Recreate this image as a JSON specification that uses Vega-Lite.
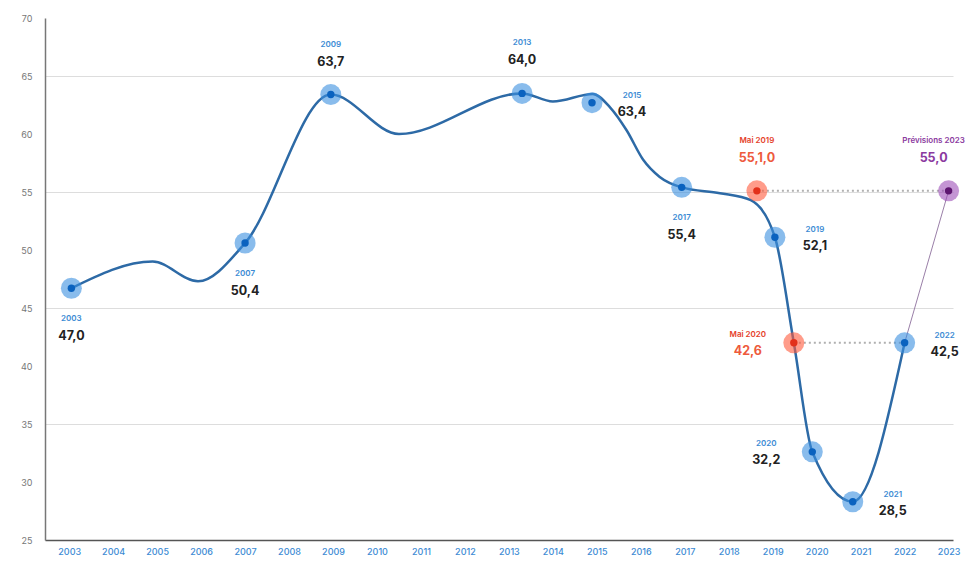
{
  "$schema": "https://vega.github.io/schema/vega-lite/v6.json",
  "width": 908,
  "height": 522,
  "autosize": {"type": "none"},
  "padding": {"left": 45, "top": 18, "right": 22, "bottom": 21},
  "background": "white",
  "config": {
    "view": {"stroke": null},
    "text": {"font": "Inter"},
    "axis": {"labelFont": "Inter"}
  },
  "datasets": {
    "curve": [
      {"year": 2003.05, "value": 46.7},
      {"year": 2004.9, "value": 49.0},
      {"year": 2005.93, "value": 47.3},
      {"year": 2007.0, "value": 50.6},
      {"year": 2008.95, "value": 63.4},
      {"year": 2010.5, "value": 60.0},
      {"year": 2013.3, "value": 63.5},
      {"year": 2014.0, "value": 62.8},
      {"year": 2014.91, "value": 63.45},
      {"year": 2015.3, "value": 62.3},
      {"year": 2015.68, "value": 60.3},
      {"year": 2016.05, "value": 57.8},
      {"year": 2016.43, "value": 56.3},
      {"year": 2016.93, "value": 55.4},
      {"year": 2017.8, "value": 54.9},
      {"year": 2018.5, "value": 54.3},
      {"year": 2019.05, "value": 51.1},
      {"year": 2019.48, "value": 42.0},
      {"year": 2019.9, "value": 32.6},
      {"year": 2020.82, "value": 28.3},
      {"year": 2022.0, "value": 42.0}
    ],
    "dots": [
      {"seg": "a", "year": 2018.64, "value": 55.1},
      {"seg": "a", "year": 2023.0, "value": 55.1},
      {"seg": "b", "year": 2019.48, "value": 42.0},
      {"seg": "b", "year": 2022.0, "value": 42.0}
    ],
    "fc": [
      {"year": 2022.0, "value": 42.0},
      {"year": 2023.0, "value": 55.1}
    ],
    "pts": [
      {"year": 2003.05, "value": 46.7, "kind": "actual", "tag": "2003", "val": "47,0", "pos": "below"},
      {"year": 2007.0, "value": 50.6, "kind": "actual", "tag": "2007", "val": "50,4", "pos": "below"},
      {"year": 2008.95, "value": 63.4, "kind": "actual", "tag": "2009", "val": "63,7", "pos": "above"},
      {"year": 2013.3, "value": 63.5, "kind": "actual", "tag": "2013", "val": "64,0", "pos": "above"},
      {"year": 2014.89, "value": 62.7, "kind": "actual", "tag": "2015", "val": "63,4", "pos": "right"},
      {"year": 2016.93, "value": 55.4, "kind": "actual", "tag": "2017", "val": "55,4", "pos": "below"},
      {"year": 2019.05, "value": 51.1, "kind": "actual", "tag": "2019", "val": "52,1", "pos": "right"},
      {"year": 2019.9, "value": 32.6, "kind": "actual", "tag": "2020", "val": "32,2", "pos": "left"},
      {"year": 2020.82, "value": 28.3, "kind": "actual", "tag": "2021", "val": "28,5", "pos": "right"},
      {"year": 2022.0, "value": 42.0, "kind": "actual", "tag": "2022", "val": "42,5", "pos": "right"},
      {"year": 2018.64, "value": 55.1, "kind": "may", "tag": "Mai 2019", "val": "55,1,0", "pos": "above"},
      {"year": 2019.48, "value": 42.0, "kind": "may", "tag": "Mai 2020", "val": "42,6", "pos": "left"},
      {"year": 2023.0, "value": 55.1, "kind": "forecast", "tag": "Prévisions 2023", "val": "55,0", "pos": "aboveleft"}
    ]
  },
  "encoding": {
    "x": {
      "field": "year", "type": "quantitative",
      "scale": {"domain": [2002.45, 2023.1], "nice": false, "zero": false},
      "axis": {
        "title": null, "values": [2003,2004,2005,2006,2007,2008,2009,2010,2011,2012,2013,2014,2015,2016,2017,2018,2019,2020,2021,2022,2023],
        "format": "d", "grid": false, "ticks": false, "labelColor": "#3c8bd4", "labelFontSize": 9,
        "labelPadding": 7, "domainColor": "#555555", "domainWidth": 1.5, "labelFontWeight": 500
      }
    },
    "y": {
      "field": "value", "type": "quantitative",
      "scale": {"domain": [25, 70], "nice": false, "zero": false},
      "axis": {
        "title": null, "values": [25,30,35,40,45,50,55,60,65,70], "ticks": false,
        "labelColor": "#777777", "labelFontSize": 9, "labelPadding": 13,
        "domainColor": "#777777", "domainWidth": 1.5,
        "grid": true,
        "gridColor": {"condition": {"test": "datum.value % 10 == 5 && datum.value > 25 && datum.value < 70", "value": "#dddddd"}, "value": "transparent"},
        "gridWidth": 1
      }
    }
  },
  "layer": [
    {
      "data": {"name": "dots"},
      "mark": {"type": "line", "color": "#b0b0b0", "strokeWidth": 2, "strokeDash": [2, 3]},
      "encoding": {"detail": {"field": "seg"}}
    },
    {
      "data": {"name": "fc"},
      "mark": {"type": "line", "color": "#9a7fa8", "strokeWidth": 1},
      "encoding": {}
    },
    {
      "data": {"name": "curve"},
      "mark": {"type": "line", "interpolate": "monotone", "color": "#2d6aa6", "strokeWidth": 2.5},
      "encoding": {}
    },
    {
      "data": {"name": "pts"},
      "mark": {"type": "circle", "size": 440, "opacity": 0.6},
      "encoding": {
        "color": {"condition": [{"test": "datum.kind == 'may'", "value": "#ff5a3c"}, {"test": "datum.kind == 'forecast'", "value": "#9c4fb8"}], "value": "#3a8fe0"}
      }
    },
    {
      "data": {"name": "pts"},
      "mark": {"type": "circle", "size": 55, "opacity": 1},
      "encoding": {
        "color": {"condition": [{"test": "datum.kind == 'may'", "value": "#e2301a"}, {"test": "datum.kind == 'forecast'", "value": "#5e1670"}], "value": "#0a62bf"}
      }
    },
    {
      "data": {"name": "pts"},
      "transform": [{"filter": "datum.pos == 'above'"}],
      "layer": [
        {"mark": {"type": "text", "dy": -50, "fontSize": 8, "fontWeight": 600},
         "encoding": {"text": {"field": "tag"},
           "color": {"condition": [{"test": "datum.kind == 'may'", "value": "#e5412a"}, {"test": "datum.kind == 'forecast'", "value": "#8b3aa0"}], "value": "#3c8bd4"}}},
        {"mark": {"type": "text", "dy": -33, "fontSize": 12.5, "fontWeight": 700},
         "encoding": {"text": {"field": "val"},
           "color": {"condition": [{"test": "datum.kind == 'may'", "value": "#ee5a3c"}, {"test": "datum.kind == 'forecast'", "value": "#8b3aa0"}], "value": "#222222"}}}
      ]
    },
    {
      "data": {"name": "pts"},
      "transform": [{"filter": "datum.pos == 'aboveleft'"}],
      "layer": [
        {"mark": {"type": "text", "dx": -15, "dy": -50, "fontSize": 8, "fontWeight": 600},
         "encoding": {"text": {"field": "tag"},
           "color": {"condition": [{"test": "datum.kind == 'may'", "value": "#e5412a"}, {"test": "datum.kind == 'forecast'", "value": "#8b3aa0"}], "value": "#3c8bd4"}}},
        {"mark": {"type": "text", "dx": -15, "dy": -33, "fontSize": 12.5, "fontWeight": 700},
         "encoding": {"text": {"field": "val"},
           "color": {"condition": [{"test": "datum.kind == 'may'", "value": "#ee5a3c"}, {"test": "datum.kind == 'forecast'", "value": "#8b3aa0"}], "value": "#222222"}}}
      ]
    },
    {
      "data": {"name": "pts"},
      "transform": [{"filter": "datum.pos == 'below'"}],
      "layer": [
        {"mark": {"type": "text", "dy": 31, "fontSize": 8, "fontWeight": 600},
         "encoding": {"text": {"field": "tag"},
           "color": {"condition": [{"test": "datum.kind == 'may'", "value": "#e5412a"}, {"test": "datum.kind == 'forecast'", "value": "#8b3aa0"}], "value": "#3c8bd4"}}},
        {"mark": {"type": "text", "dy": 48, "fontSize": 12.5, "fontWeight": 700},
         "encoding": {"text": {"field": "val"},
           "color": {"condition": [{"test": "datum.kind == 'may'", "value": "#ee5a3c"}, {"test": "datum.kind == 'forecast'", "value": "#8b3aa0"}], "value": "#222222"}}}
      ]
    },
    {
      "data": {"name": "pts"},
      "transform": [{"filter": "datum.pos == 'right'"}],
      "layer": [
        {"mark": {"type": "text", "dx": 40, "dy": -7, "fontSize": 8, "fontWeight": 600},
         "encoding": {"text": {"field": "tag"},
           "color": {"condition": [{"test": "datum.kind == 'may'", "value": "#e5412a"}, {"test": "datum.kind == 'forecast'", "value": "#8b3aa0"}], "value": "#3c8bd4"}}},
        {"mark": {"type": "text", "dx": 40, "dy": 9, "fontSize": 12.5, "fontWeight": 700},
         "encoding": {"text": {"field": "val"},
           "color": {"condition": [{"test": "datum.kind == 'may'", "value": "#ee5a3c"}, {"test": "datum.kind == 'forecast'", "value": "#8b3aa0"}], "value": "#222222"}}}
      ]
    },
    {
      "data": {"name": "pts"},
      "transform": [{"filter": "datum.pos == 'left'"}],
      "layer": [
        {"mark": {"type": "text", "dx": -46, "dy": -8, "fontSize": 8, "fontWeight": 600},
         "encoding": {"text": {"field": "tag"},
           "color": {"condition": [{"test": "datum.kind == 'may'", "value": "#e5412a"}, {"test": "datum.kind == 'forecast'", "value": "#8b3aa0"}], "value": "#3c8bd4"}}},
        {"mark": {"type": "text", "dx": -46, "dy": 8, "fontSize": 12.5, "fontWeight": 700},
         "encoding": {"text": {"field": "val"},
           "color": {"condition": [{"test": "datum.kind == 'may'", "value": "#ee5a3c"}, {"test": "datum.kind == 'forecast'", "value": "#8b3aa0"}], "value": "#222222"}}}
      ]
    }
  ]
}
